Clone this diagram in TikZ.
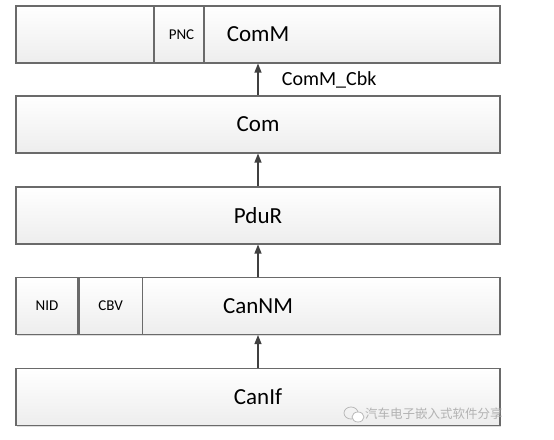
\documentclass[tikz,border=0pt]{standalone}
\usepackage{fontspec}
\setmainfont{Carlito}
\newfontfamily\cjk{Noto Sans CJK SC}
\usepackage{tikz}
\usetikzlibrary{arrows.meta, positioning, shadows, calc}

\definecolor{boxline}{HTML}{6A6A6A}
\definecolor{arrowcol}{HTML}{404040}

\begin{document}
\begin{tikzpicture}[x=1pt, y=-1pt,
        layer/.style={draw=boxline, line width=1.1pt, minimum width=484pt, minimum height=57pt,
            top color=white, bottom color=gray!14, inner sep=0pt,
            drop shadow={shadow xshift=1.2pt, shadow yshift=-1.2pt, fill=gray!45, opacity=0.6},
            font=\fontsize{23}{26}\selectfont},
        cell/.style={draw=boxline, line width=1.1pt, minimum height=57pt, inner sep=0pt,
            font=\fontsize{15}{17}\selectfont},
        up/.style={-{Triangle[length=9pt, width=7pt]}, draw=arrowcol, line width=1.2pt}]
        \useasboundingbox (0,0) rectangle (554,439);

        % layers
        \node[layer] (comm) at (258,34.5) {ComM};
        \node[layer] (com) at (258,124.5) {Com};
        \node[layer] (pdur) at (258,215.5) {PduR};
        \node[layer] (cannm) at (258,306) {CanNM};
        \node[layer] (canif) at (258,397) {CanIf};

        % sub-cells
        \node[cell, minimum width=50pt] (pnc) at (179,34.5) {\hspace{5pt}PNC};
        \node[cell, minimum width=62pt] (nid) at (47,306) {\raisebox{-4pt}{NID}};
        \node[cell, minimum width=63pt, right=0pt of nid] (cbv) {CBV};

        % arrows
        \draw[up] (canif) -- (cannm);
        \draw[up] (cannm) -- (pdur);
        \draw[up] (pdur) -- (com);
        \draw[up] (com) -- (comm) node[midway, right=20pt, font=\fontsize{20}{22}\selectfont] (cbk) {ComM\_Cbk};

        % watermark
        \coordinate (wm) at (354,414);
        \draw[gray!55, line width=0.8pt] ($(wm)+(-3,-1)$) ellipse (7pt and 6pt);
        \draw[gray!55, line width=0.8pt, fill=white] ($(wm)+(4,3)$) ellipse (6pt and 5pt);
        \node[right=11pt of wm, inner sep=0pt, text=gray!60, font=\cjk\fontsize{12.5}{14}\selectfont] (mark) {汽车电子嵌入式软件分享};
\end{tikzpicture}
\end{document}
